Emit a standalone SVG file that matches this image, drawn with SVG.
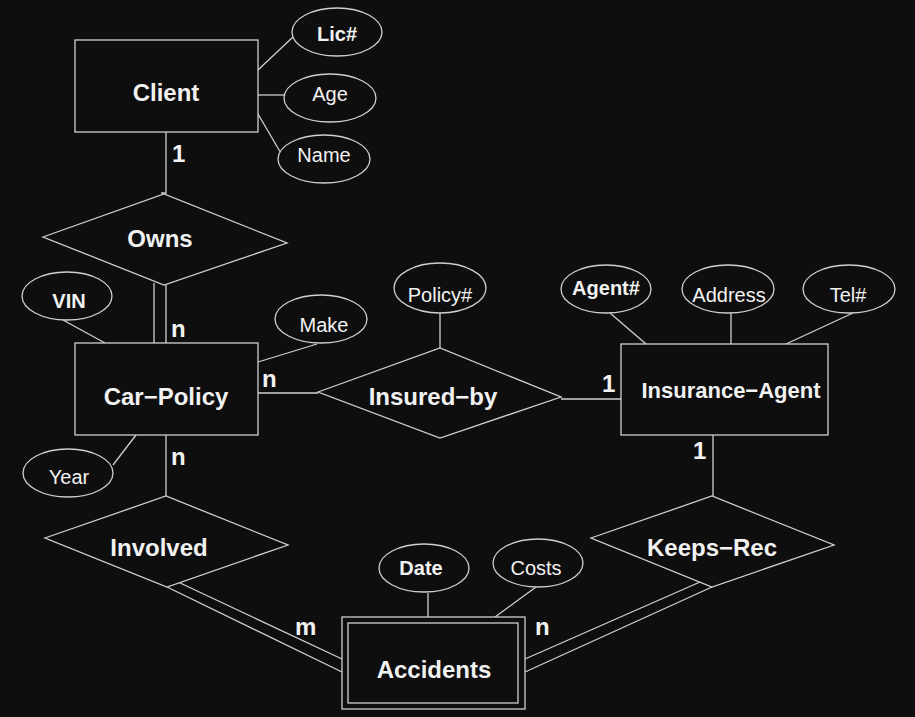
<svg xmlns="http://www.w3.org/2000/svg" width="915" height="717" viewBox="0 0 915 717">
<style>
.bg{fill:#0e0e0e}
.s{fill:none;stroke:#d0d0d0;stroke-width:1.3}
.sh{fill:#0e0e0e;stroke:#d0d0d0;stroke-width:1.3}
text{font-family:"Liberation Sans",Arial,sans-serif;fill:#f2f2f2;text-anchor:middle}
.e{font-size:24px;font-weight:bold}
.a{font-size:20px}
.k{font-size:20px;font-weight:bold}
.c{font-size:24px;font-weight:bold;text-anchor:start}
</style>
<rect class="bg" x="0" y="0" width="915" height="717"/>
<g id="connectors">
<line class="s" x1="258" y1="70" x2="293" y2="37"/>
<line class="s" x1="258" y1="95" x2="284" y2="95"/>
<line class="s" x1="258" y1="114" x2="282" y2="155"/>
<polyline class="s" points="166,132 166,193 161,193"/>
<line class="s" x1="154" y1="283" x2="154" y2="343"/>
<line class="s" x1="166" y1="285" x2="166" y2="343"/>
<line class="s" x1="63" y1="320" x2="105" y2="343"/>
<line class="s" x1="258" y1="362" x2="317" y2="344"/>
<line class="s" x1="113" y1="465" x2="136" y2="435"/>
<line class="s" x1="258" y1="393" x2="318" y2="393"/>
<line class="s" x1="166" y1="435" x2="166" y2="496"/>
<line class="s" x1="440" y1="313" x2="440" y2="348"/>
<line class="s" x1="561" y1="399" x2="621" y2="399"/>
<line class="s" x1="610" y1="313" x2="646" y2="344"/>
<line class="s" x1="731" y1="313" x2="731" y2="344"/>
<line class="s" x1="853" y1="313" x2="786" y2="344"/>
<line class="s" x1="713" y1="435" x2="713" y2="496"/>
<line class="s" x1="428" y1="593" x2="428" y2="617"/>
<line class="s" x1="536" y1="587" x2="495" y2="617"/>
<line class="s" x1="167" y1="587" x2="342" y2="672"/>
<line class="s" x1="178" y1="582" x2="342" y2="659"/>
<line class="s" x1="712" y1="587" x2="525" y2="672"/>
<line class="s" x1="700" y1="582" x2="525" y2="659"/>
</g>
<g id="client">
<rect class="sh" x="75" y="40" width="183" height="92"/>
<text class="e" x="166" y="101">Client</text>
</g>
<g id="lic">
<ellipse class="sh" cx="337" cy="32" rx="45" ry="24"/>
<text class="k" x="337" y="41">Lic#</text>
</g>
<g id="age">
<ellipse class="sh" cx="330" cy="98" rx="46" ry="24"/>
<text class="a" x="330" y="101">Age</text>
</g>
<g id="name">
<ellipse class="sh" cx="324" cy="159" rx="46" ry="24"/>
<text class="a" x="324" y="162">Name</text>
</g>
<g id="owns">
<polygon class="sh" points="43,237 164,194 287,243 164,285"/>
<text class="e" x="160" y="247">Owns</text>
</g>
<g id="carpolicy">
<rect class="sh" x="75" y="343" width="183" height="92"/>
<text class="e" x="166" y="405">Car−Policy</text>
</g>
<g id="vin">
<ellipse class="sh" cx="67" cy="296" rx="45" ry="24"/>
<text class="k" x="69" y="308">VIN</text>
</g>
<g id="make">
<ellipse class="sh" cx="321" cy="319" rx="46" ry="24"/>
<text class="a" x="324" y="332">Make</text>
</g>
<g id="year">
<ellipse class="sh" cx="68" cy="473" rx="45" ry="24"/>
<text class="a" x="69" y="484">Year</text>
</g>
<g id="insuredby">
<polygon class="sh" points="318,392 440,348 561,397 440,438"/>
<text class="e" x="433" y="405">Insured−by</text>
</g>
<g id="policy">
<ellipse class="sh" cx="440" cy="288" rx="46" ry="25"/>
<text class="a" x="440" y="302">Policy#</text>
</g>
<g id="agent">
<rect class="sh" x="621" y="344" width="207" height="91"/>
<text class="e" x="731" y="398" style="font-size:22px">Insurance−Agent</text>
</g>
<g id="agentno">
<ellipse class="sh" cx="606" cy="289" rx="45" ry="24"/>
<text class="k" x="606" y="295">Agent#</text>
</g>
<g id="address">
<ellipse class="sh" cx="728" cy="289" rx="46" ry="24"/>
<text class="a" x="729" y="302">Address</text>
</g>
<g id="tel">
<ellipse class="sh" cx="849" cy="289" rx="46" ry="24"/>
<text class="a" x="848" y="302">Tel#</text>
</g>
<g id="involved">
<polygon class="sh" points="45,538 166,496 288,545 167,587"/>
<text class="e" x="159" y="556">Involved</text>
</g>
<g id="keepsrec">
<polygon class="sh" points="591,538 712,496 834,545 712,587"/>
<text class="e" x="712" y="556">Keeps−Rec</text>
</g>
<g id="accidents">
<rect class="sh" x="342" y="617" width="183" height="92"/>
<rect class="s" x="348" y="623" width="170" height="80"/>
<text class="e" x="434" y="678">Accidents</text>
</g>
<g id="date">
<ellipse class="sh" cx="424" cy="568" rx="45" ry="24"/>
<text class="k" x="421" y="575">Date</text>
</g>
<g id="costs">
<ellipse class="sh" cx="538" cy="563" rx="45" ry="24"/>
<text class="a" x="536" y="575">Costs</text>
</g>
<g id="labels">
<text class="c" x="172" y="162">1</text>
<text class="c" x="171" y="337">n</text>
<text class="c" x="262" y="387">n</text>
<text class="c" x="171" y="465">n</text>
<text class="c" x="602" y="392">1</text>
<text class="c" x="693" y="459">1</text>
<text class="c" x="295" y="635">m</text>
<text class="c" x="535" y="635">n</text>
</g>
</svg>
